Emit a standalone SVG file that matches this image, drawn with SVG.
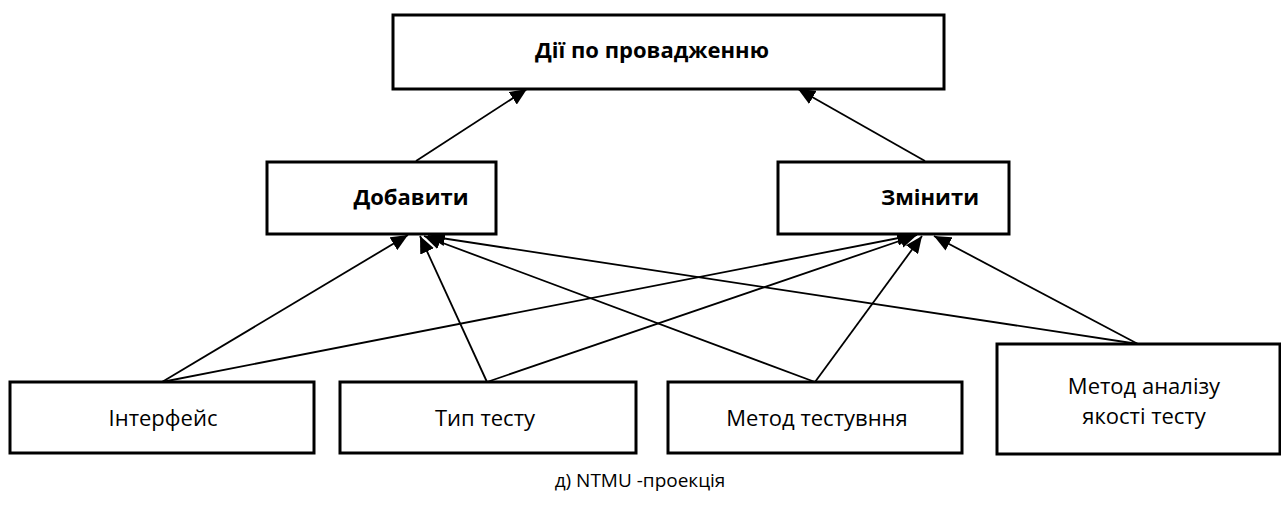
<svg xmlns="http://www.w3.org/2000/svg" width="1281" height="516" viewBox="0 0 1281 516">
<defs>
<style>
.box{fill:#fff;stroke:#000;stroke-width:3}
.b{font-family:"Open Sans","Noto Sans",sans-serif;font-weight:700;font-size:22px;fill:#000;text-anchor:middle}
.n{font-family:"Open Sans","Noto Sans",sans-serif;font-weight:400;font-size:22px;fill:#000;text-anchor:middle}
.c{font-family:"Open Sans","Noto Sans",sans-serif;font-weight:400;font-size:19px;fill:#000;text-anchor:middle}
.ln{stroke:#000;stroke-width:1.8;fill:none;marker-end:url(#ah)}
</style>
<marker id="ah" markerUnits="userSpaceOnUse" markerWidth="19" markerHeight="15" refX="17" refY="7.5" orient="auto">
<path d="M0,0 L17,7.5 L0,15 Z" fill="#000"/>
</marker>
</defs>
<rect width="1281" height="516" fill="#fff"/>
<g id="connectors">
<line class="ln" x1="416" y1="161" x2="527" y2="89"/>
<line class="ln" x1="925" y1="161" x2="798" y2="89"/>
<line class="ln" x1="162" y1="382" x2="408" y2="235"/>
<line class="ln" x1="487" y1="382" x2="420" y2="236"/>
<line class="ln" x1="815" y1="382" x2="424" y2="236"/>
<line class="ln" x1="1138" y1="344" x2="428" y2="236"/>
<line class="ln" x1="162" y1="382" x2="914" y2="235"/>
<line class="ln" x1="487" y1="382" x2="917" y2="235"/>
<line class="ln" x1="815" y1="382" x2="922" y2="236"/>
<line class="ln" x1="1138" y1="344" x2="934" y2="236"/>
</g>
<g id="node-top">
<rect class="box" x="393" y="15" width="551" height="74"/>
<text class="b" x="652" y="58">Дії по провадженню</text>
</g>
<g id="node-add">
<rect class="box" x="267" y="162" width="229" height="72"/>
<text class="b" x="411" y="205">Добавити</text>
</g>
<g id="node-change">
<rect class="box" x="778" y="162" width="231" height="72"/>
<text class="b" x="930" y="205">Змінити</text>
</g>
<g id="node-interface">
<rect class="box" x="10" y="382" width="304" height="71"/>
<text class="n" x="163" y="426">Інтерфейс</text>
</g>
<g id="node-testtype">
<rect class="box" x="340" y="382" width="296" height="71"/>
<text class="n" x="485" y="426">Тип тесту</text>
</g>
<g id="node-testmethod">
<rect class="box" x="668" y="382" width="294" height="71"/>
<text class="n" x="817" y="426">Метод тестувння</text>
</g>
<g id="node-analysis">
<rect class="box" x="997" y="344" width="283" height="110"/>
<text class="n" x="1144" y="394">Метод аналізу</text>
<text class="n" x="1144" y="424">якості тесту</text>
</g>
<text class="c" x="640" y="487">д) NTMU -проекція</text>
</svg>
